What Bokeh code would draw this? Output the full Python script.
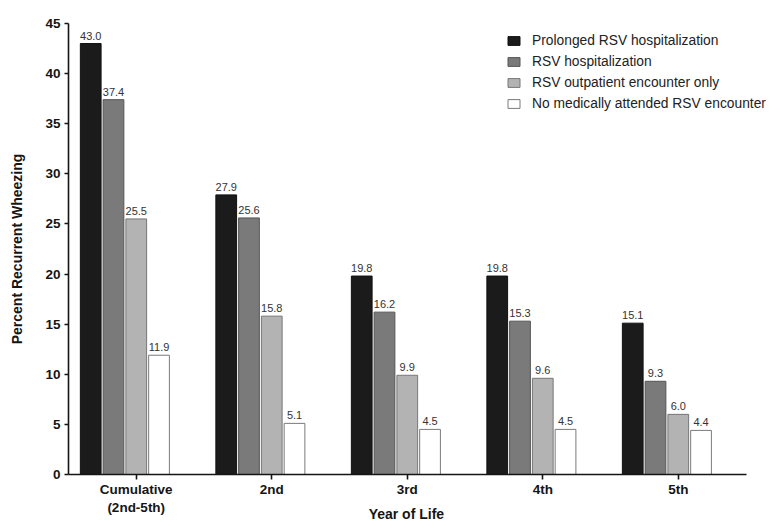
from bokeh.plotting import figure
from bokeh.models import ColumnDataSource, Range1d, FixedTicker, Legend, LegendItem
from bokeh.transform import dodge
from bokeh.core.properties import value
from bokeh.embed import file_html
from bokeh.resources import INLINE

years = ["Cumulative\n(2nd-5th)", "2nd", "3rd", "4th", "5th"]
series_names = ["Prolonged RSV hospitalization", "RSV hospitalization",
                "RSV outpatient encounter only", "No medically attended RSV encounter"]
prolonged = [43.0, 27.9, 19.8, 19.8, 15.1]
hospitalization = [37.4, 25.6, 16.2, 15.3, 9.3]
outpatient = [25.5, 15.8, 9.9, 9.6, 6.0]
no_encounter = [11.9, 5.1, 4.5, 4.5, 4.4]
y_ticks = [0, 5, 10, 15, 20, 25, 30, 35, 40, 45]

series = [prolonged, hospitalization, outpatient, no_encounter]
fills = ["#1b1b1b", "#7a7a7a", "#b3b3b3", "#ffffff"]
lines = ["#111111", "#555555", "#777777", "#7a7a7a"]
offsets = [-0.336, -0.168, 0.0, 0.168]
bar_w = 0.153

FONT = "Liberation Sans"
idx = list(range(len(years)))

p = figure(x_range=Range1d(-0.5, 4.688), y_range=Range1d(0, 45),
           width=771, height=524, output_backend="svg", toolbar_location=None,
           min_border_left=68, min_border_right=0, min_border_top=23, min_border_bottom=0)
p.outline_line_color = None
p.xgrid.visible = False
p.ygrid.visible = False
p.background_fill_color = "white"

items = []
for name, vals, fc, lc, off in zip(series_names, series, fills, lines, offsets):
    src = ColumnDataSource(dict(xi=idx, v=vals, lab=["%.1f" % v for v in vals]))
    r = p.vbar(x=dodge("xi", off), top="v", width=bar_w, source=src,
               fill_color=fc, line_color=lc, line_width=1)
    p.text(x=dodge("xi", off), y="v", text="lab", source=src,
           text_align="center", text_baseline="bottom", y_offset=-4,
           text_font_size="11px", text_color="#333333", text_font=value(FONT))
    items.append(LegendItem(label=name, renderers=[r]))

for ax in (p.xaxis[0], p.yaxis[0]):
    ax.axis_line_width = 1.6
    ax.axis_line_color = "#151515"
    ax.major_tick_line_width = 1.6
    ax.major_tick_line_color = "#151515"
    ax.major_tick_in = 0
    ax.major_tick_out = 5
    ax.minor_tick_line_color = None
    ax.major_label_text_font = FONT
    ax.major_label_text_font_style = "bold"
    ax.major_label_text_font_size = "13.5px"
    ax.major_label_text_color = "#151515"
    ax.axis_label_text_font = FONT
    ax.axis_label_text_font_style = "bold"
    ax.axis_label_text_font_size = "14px"
    ax.axis_label_text_color = "#151515"

p.yaxis.ticker = FixedTicker(ticks=y_ticks)
p.yaxis.major_tick_out = 4
p.yaxis.major_label_standoff = 4
p.yaxis.axis_label = "Percent Recurrent Wheezing"
p.yaxis.axis_label_standoff = 17

p.xaxis.ticker = FixedTicker(ticks=idx)
p.xaxis.major_label_overrides = {i: lab for i, lab in zip(idx, years)}
p.xaxis.bounds = (-0.5, 4.5)
p.xaxis.major_label_standoff = 2
# trailing no-break spaces shift the centred title over the drawn axis span
p.xaxis.axis_label = "Year of Life" + "\u00a0" * 7
p.xaxis.axis_label_standoff = -12

legend = Legend(items=items, location=(438, 362), orientation="vertical",
                glyph_width=15, glyph_height=11, label_height=17, spacing=4,
                label_standoff=11, padding=0, margin=0,
                border_line_color=None, background_fill_alpha=0,
                label_text_font=FONT, label_text_font_size="13.8px", label_text_color="#222222")
p.add_layout(legend, "center")

open("out.html", "w").write(file_html(p, INLINE))
